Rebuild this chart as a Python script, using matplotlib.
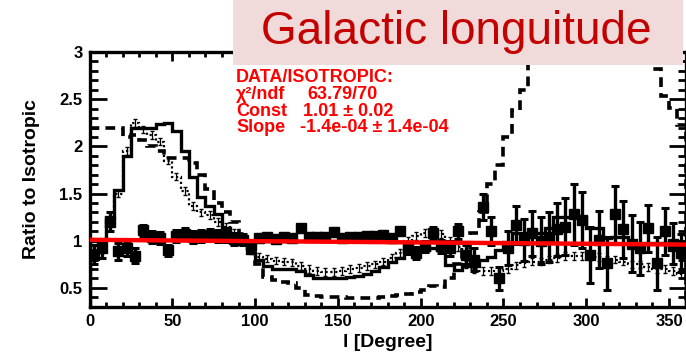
import numpy as np
import matplotlib
matplotlib.use("Agg")
import matplotlib.pyplot as plt
from matplotlib.patches import Rectangle
from matplotlib.ticker import MultipleLocator

plt.rcParams['font.family'] = ['Liberation Sans', 'DejaVu Sans']

# 5 degree bins in galactic longitude
edges = np.arange(0, 365, 5)
centers = edges[:-1] + 2.5

# data / isotropic ratio and its errors
ratio = [0.85, 0.92, 1.20, 0.89, 0.92, 0.84, 1.11, 1.04, 1.03, 0.90,
         1.05, 1.07, 1.04, 1.05, 1.06, 1.05, 1.05, 1.02, 1.01, 0.95,
         1.03, 1.04, 1.02, 1.04, 1.03, 1.13, 1.04, 1.04, 1.04, 1.09,
         1.03, 1.04, 1.04, 1.05, 1.05, 1.06, 1.03, 1.10, 0.92, 0.87,
         0.94, 1.08, 0.94, 0.92, 1.10, 0.85, 0.80, 1.36, 1.10, 0.60,
         0.92, 1.17, 1.01, 1.08, 1.00, 1.04, 1.12, 1.15, 1.28, 1.22,
         0.85, 1.01, 0.76, 1.28, 1.12, 0.97, 0.92, 1.13, 0.76, 1.10,
         0.97, 0.87]
ratio_err = [0.10, 0.10, 0.10, 0.09, 0.08, 0.08,
             0.06, 0.06, 0.06, 0.06, 0.06, 0.06, 0.06, 0.06, 0.06, 0.06, 0.06, 0.06, 0.06, 0.06,
             0.04, 0.04, 0.04, 0.04, 0.04, 0.04, 0.04, 0.04, 0.04, 0.04, 0.04, 0.04, 0.04, 0.04,
             0.04, 0.04, 0.04, 0.04,
             0.06, 0.06, 0.06, 0.07, 0.07, 0.08, 0.08, 0.10,
             0.12, 0.14, 0.15, 0.12,
             0.18, 0.20, 0.22, 0.24, 0.25, 0.26, 0.28, 0.30, 0.32, 0.30, 0.30, 0.30,
             0.28, 0.30, 0.30, 0.30, 0.28, 0.25, 0.28, 0.25, 0.22, 0.20]

# model ratios
model_solid = [1.00, 1.00, 1.25, 1.54, 1.90, 2.20, 2.19, 2.20, 2.24, 2.25,
               2.16, 1.95, 1.68, 1.46, 1.37, 1.28, 1.14, 1.02, 0.98, 0.87,
               0.80, 0.73, 0.70, 0.70, 0.70, 0.68, 0.64, 0.61, 0.61, 0.61,
               0.61, 0.62, 0.63, 0.65, 0.68, 0.72, 0.77, 0.82, 0.89, 0.90,
               0.90, 0.92, 0.90, 0.74, 0.69, 0.73, 0.73, 0.80, 0.83, 0.90,
               0.99, 1.08, 1.08, 1.08, 1.08, 1.14, 1.25, 1.25, 1.25, 1.25,
               1.14, 1.14, 1.03, 1.04, 1.04, 0.97, 0.97, 0.98, 0.98, 0.98,
               0.90, 0.93]
model_dashed = [2.20, 2.20, 2.20, 2.20, 2.10, 2.12, 2.07, 2.00, 1.95, 1.88,
                1.88, 1.88, 1.82, 1.70, 1.55, 1.40, 1.30, 1.20, 1.07, 0.90,
                0.75, 0.62, 0.58, 0.56, 0.55, 0.50, 0.43, 0.41, 0.40, 0.40,
                0.40, 0.39, 0.39, 0.39, 0.39, 0.40, 0.41, 0.42, 0.44, 0.46,
                0.48, 0.52, 0.51, 0.60, 0.75, 0.90, 1.08, 1.30, 1.60, 1.80,
                2.10, 2.39, 2.60, 3.30, 3.70, 4.00, 4.20, 4.30, 4.40, 4.40,
                4.30, 4.20, 4.00, 3.80, 3.60, 3.40, 3.30, 3.10, 2.82, 2.53,
                2.41, 2.23]
model_dotted = [0.90, 0.95, 1.20, 1.50, 1.95, 2.25, 2.18, 2.12, 2.05, 1.85,
                1.68, 1.53, 1.37, 1.30, 1.27, 1.20, 1.15, 1.08, 1.02, 0.90,
                0.83, 0.81, 0.79, 0.78, 0.77, 0.73, 0.70, 0.68, 0.67, 0.67,
                0.68, 0.70, 0.71, 0.73, 0.75, 0.78, 0.82, 0.87, 1.00, 1.05,
                1.08, 1.08, 1.07, 1.00, 0.93, 0.75, 0.70, 0.68, 0.68, 0.68,
                0.70, 0.74, 0.76, 0.78, 0.78, 0.80, 0.82, 0.84, 0.84, 0.84,
                0.84, 0.83, 0.80, 0.80, 0.78, 0.75, 0.75, 0.72, 0.70, 0.70,
                0.68, 0.65]

# straight-line fit to the data
fit_const = 1.01
fit_slope = -1.4e-4

fig = plt.figure(figsize=(6.86, 3.58), dpi=100)
ax = fig.add_axes([0.1305, 0.143, 0.8688, 0.7117])

ax.stairs(model_solid, edges, color='black', lw=2.4, zorder=2)
ax.stairs(model_dashed, edges, color='black', lw=2.6, linestyle=(0, (2.7, 1.7)), zorder=2)
ax.stairs(model_dotted, edges, color='black', lw=1.6, linestyle=(0, (1, 1.2)), zorder=2)
ax.errorbar(centers, model_dotted, yerr=0.04, fmt='none', ecolor='black',
            elinewidth=0.9, capsize=1.5, zorder=2)

ax.errorbar(centers, ratio, yerr=ratio_err, fmt='s', color='black', ms=7,
            elinewidth=2.4, capsize=3, capthick=2.2, zorder=3)

xfit = np.array([0, 360])
ax.plot(xfit, fit_const + fit_slope * xfit, color='#ff0000', lw=3.2, zorder=4)

ax.set_xlim(0, 360)
ax.set_ylim(0.3, 3.0)
ax.xaxis.set_major_locator(MultipleLocator(50))
ax.xaxis.set_minor_locator(MultipleLocator(10))
ax.yaxis.set_major_locator(MultipleLocator(0.5))
ax.yaxis.set_minor_locator(MultipleLocator(0.1))
ax.set_yticks([0.5, 1, 1.5, 2, 2.5, 3])
ax.set_yticklabels(['0.5', '1', '1.5', '2', '2.5', '3'])

for s in ax.spines.values():
    s.set_linewidth(2.4)
ax.tick_params(axis='both', which='both', direction='in', top=True, right=True, width=2)
ax.tick_params(axis='x', which='major', length=6.5, pad=5)
ax.tick_params(axis='x', which='minor', length=3.6)
ax.tick_params(axis='y', which='major', length=12, pad=5)
ax.tick_params(axis='y', which='minor', length=6)
for lab in ax.get_xticklabels() + ax.get_yticklabels():
    lab.set_fontweight('bold')
    lab.set_fontsize(12)

ax.set_xlabel('l [Degree]', fontsize=14, fontweight='bold', labelpad=4)
ax.set_ylabel('Ratio to Isotropic', fontsize=14, fontweight='bold', labelpad=14)

# fit summary
red = '#ff0000'
st = dict(transform=fig.transFigure, color=red, fontsize=13, fontweight='bold',
          va='baseline', ha='left', zorder=6)
fig.text(236 / 686, 1 - 82 / 358, 'DATA/ISOTROPIC:', **st)
fig.text(236 / 686, 1 - 99 / 358, '\u03c7\u00b2/ndf', **st)
fig.text(307 / 686, 1 - 99 / 358, '63.79/70', **st)
fig.text(236 / 686, 1 - 116 / 358, 'Const', **st)
fig.text(303 / 686, 1 - 116 / 358, '1.01 \u00b1 0.02', **st)
fig.text(236 / 686, 1 - 132 / 358, 'Slope', **st)
fig.text(300 / 686, 1 - 132 / 358, '-1.4e-04 \u00b1 1.4e-04', **st)

# title banner
fig.patches.append(Rectangle((233 / 686, 1 - 65 / 358), 450 / 686, 65 / 358,
                             transform=fig.transFigure, facecolor='#f0dada',
                             edgecolor='none', zorder=10))
fig.text(456 / 686, 1 - 44 / 358, 'Galactic longuitude', transform=fig.transFigure,
         color='#c40000', fontsize=33, ha='center', va='baseline', zorder=11)

fig.savefig('out.png', dpi=100)
